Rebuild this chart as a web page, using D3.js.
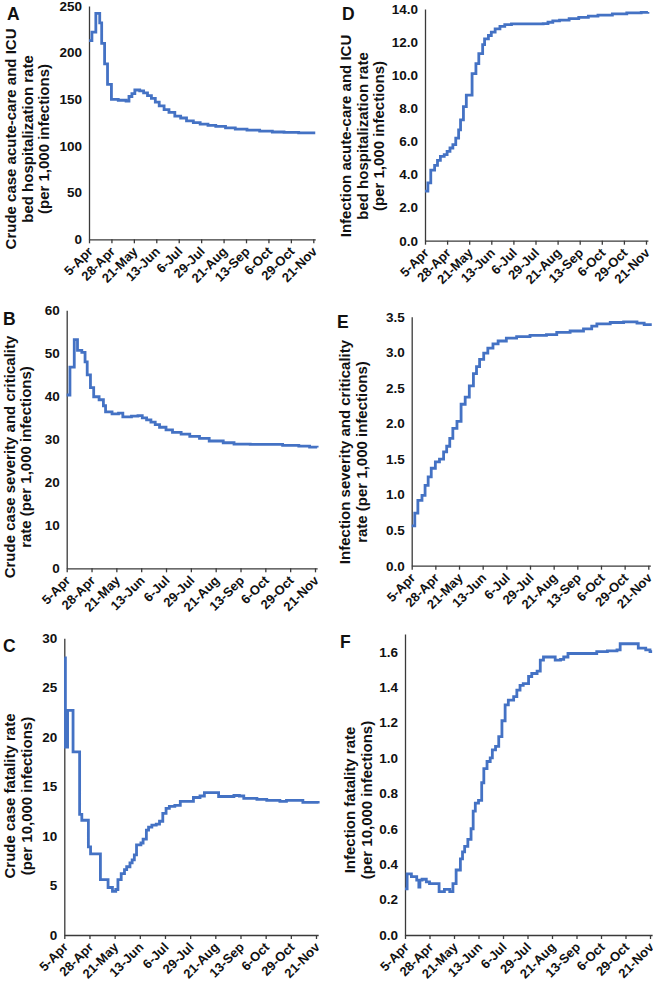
<!DOCTYPE html>
<html>
<head>
<meta charset="utf-8">
<script src="https://cdn.jsdelivr.net/npm/d3@7"></script>
<style>
  body { margin: 0; background: #fff; }
  text { font-family: "Liberation Sans", Arial, sans-serif; font-weight: bold; fill: #111; }
</style>
</head>
<body>
<svg width="653" height="991"></svg>
<script>
// x axis: days counted from 5-Apr, one tick every 23 days
const xTickDays = [0, 23, 46, 69, 92, 115, 138, 161, 184, 207, 230];
const xTickLabels = ["5-Apr", "28-Apr", "21-May", "13-Jun", "6-Jul", "29-Jul", "21-Aug", "13-Sep", "6-Oct", "29-Oct", "21-Nov"];

// A - crude case acute-care and ICU hospitalization rate
const daysA = [0, 3, 7, 11, 13, 16, 19, 23, 30, 38, 41, 44, 47, 52, 56, 60, 64, 68, 72, 77, 82, 88, 94, 100, 107, 114, 122, 130, 140, 150, 162, 175, 188, 200, 215, 225, 232];
const valuesA = [213, 222, 242, 232, 210, 188, 166, 150, 149, 148, 153, 156, 160, 159, 157, 154, 151, 147, 143, 139, 136, 132, 130, 127, 125, 123.5, 122, 121, 119.5, 118, 117, 116, 115, 114.5, 114, 114, 114];

// B - crude case severity and criticality rate
const daysB = [0, 3, 7, 10, 14, 17, 19, 22, 25, 30, 34, 36, 42, 48, 52, 56, 60, 66, 70, 74, 78, 82, 86, 92, 98, 106, 114, 123, 132, 145, 155, 170, 185, 200, 215, 225, 232];
const valuesB = [40.3, 46.8, 53.2, 50.7, 50.2, 48, 45, 42, 39.9, 39.2, 37.8, 36.4, 35.9, 36.1, 35.2, 35.2, 35.4, 35.5, 35, 34.5, 34, 33.4, 32.8, 32.2, 31.6, 31.2, 30.7, 30.2, 29.6, 29.2, 28.9, 28.8, 28.8, 28.6, 28.4, 28.2, 28.1];

// C - crude case fatality rate
const daysC = [0, 1, 3, 8, 14, 16, 22, 24, 33, 40, 44, 47, 49, 52, 55, 57, 60, 62, 64, 66, 70, 72, 75, 77, 80, 84, 87, 90, 93, 96, 101, 106, 113, 118, 124, 128, 141, 155, 160, 164, 176, 185, 197, 203, 218, 232];
const valuesC = [28, 19, 22.7, 18.5, 12.2, 11.6, 8.9, 8.2, 5.6, 4.8, 4.4, 4.6, 5.6, 6.2, 6.6, 6.9, 7.3, 7.6, 8.1, 9.1, 9.3, 9.7, 10.6, 10.9, 11.1, 11.2, 11.5, 12.3, 12.8, 13, 13.1, 13.5, 13.5, 13.9, 14.05, 14.4, 14, 14.1, 14.05, 13.8, 13.7, 13.6, 13.5, 13.6, 13.4, 13.3];

// D - infection acute-care and ICU hospitalization rate
const daysD = [0, 3, 6, 10, 13, 16, 20, 23, 26, 29, 32, 35, 37, 40, 43, 49, 53, 56, 60, 62, 66, 69, 73, 78, 83, 90, 100, 110, 123, 128, 133, 140, 150, 160, 170, 180, 195, 210, 225, 232];
const valuesD = [3.0, 3.5, 4.27, 4.55, 4.85, 5.1, 5.2, 5.4, 5.6, 5.8, 6.2, 6.7, 7.3, 8.1, 8.8, 10.1, 10.7, 11.3, 11.85, 12.2, 12.4, 12.6, 12.8, 12.95, 13.05, 13.1, 13.1, 13.1, 13.12, 13.2, 13.28, 13.33, 13.42, 13.5, 13.57, 13.63, 13.7, 13.76, 13.8, 13.82];

// E - infection severity and criticality rate
const daysE = [0, 3, 6, 10, 13, 16, 19, 23, 27, 31, 34, 37, 40, 44, 48, 52, 56, 60, 63, 66, 70, 74, 79, 84, 92, 102, 115, 131, 141, 154, 167, 175, 180, 193, 206, 219, 226, 232];
const valuesE = [0.56, 0.74, 0.92, 0.99, 1.13, 1.25, 1.37, 1.46, 1.5, 1.6, 1.68, 1.79, 1.93, 2.03, 2.27, 2.37, 2.53, 2.7, 2.8, 2.9, 2.99, 3.06, 3.12, 3.16, 3.2, 3.22, 3.24, 3.25, 3.28, 3.3, 3.33, 3.37, 3.4, 3.42, 3.43, 3.41, 3.39, 3.37];

// F - infection fatality rate
const daysF = [0, 2, 6, 11, 13, 14, 16, 20, 23, 32, 37, 42, 45, 48, 52, 54, 56, 59, 62, 64, 66, 69, 72, 74, 77, 80, 82, 85, 88, 91, 94, 97, 102, 105, 108, 111, 116, 119, 124, 127, 130, 141, 146, 149, 153, 165, 180, 190, 199, 202, 218, 219, 226, 230, 232];
const valuesF = [0.26, 0.345, 0.33, 0.31, 0.27, 0.31, 0.315, 0.3, 0.29, 0.245, 0.258, 0.245, 0.29, 0.367, 0.43, 0.47, 0.5, 0.54, 0.6, 0.7, 0.745, 0.76, 0.86, 0.94, 0.98, 1.0, 1.045, 1.065, 1.12, 1.21, 1.3, 1.327, 1.346, 1.383, 1.41, 1.42, 1.46, 1.477, 1.49, 1.553, 1.57, 1.553, 1.557, 1.57, 1.59, 1.59, 1.6, 1.605, 1.61, 1.645, 1.645, 1.62, 1.61, 1.6, 1.6];

const titleA = ["Crude case acute-care and ICU", "bed hospitalization rate", "(per 1,000 infections)"];
const titleB = ["Crude case severity and criticality", "rate (per 1,000 infections)"];
const titleC = ["Crude case fatality rate", "(per 10,000 infections)"];
const titleD = ["Infection acute-care and ICU", "bed hospitalization rate", "(per 1,000 infections)"];
const titleE = ["Infection severity and criticality", "rate (per 1,000 infections)"];
const titleF = ["Infection fatality rate", "(per 10,000 infections)"];

const panels = [
  {letter: "A", days: daysA, values: valuesA, title: titleA, yMax: 250, yTickMax: 250, yStep: 50, fmt: "d",
   x0: 89, x230: 313.3, yTop: 6, yBot: 239.3, lx: 7, ly: 20, tx: 16, ty: 139},
  {letter: "B", days: daysB, values: valuesB, title: titleB, yMax: 60, yTickMax: 60, yStep: 10, fmt: "d",
   x0: 66.7, x230: 315, yTop: 310.3, yBot: 568.3, lx: 3, ly: 325, tx: 14.5, ty: 457},
  {letter: "C", days: daysC, values: valuesC, title: titleC, yMax: 30, yTickMax: 30, yStep: 5, fmt: "d",
   x0: 64.3, x230: 316, yTop: 638.2, yBot: 935, lx: 3, ly: 652, tx: 15, ty: 796},
  {letter: "D", days: daysD, values: valuesD, title: titleD, yMax: 14, yTickMax: 14, yStep: 2, fmt: ".1f",
   x0: 425, x230: 646, yTop: 9, yBot: 240.7, lx: 342, ly: 20, tx: 351, ty: 136},
  {letter: "E", days: daysE, values: valuesE, title: titleE, yMax: 3.5, yTickMax: 3.5, yStep: 0.5, fmt: ".1f",
   x0: 411.7, x230: 648.3, yTop: 316.8, yBot: 565.7, lx: 337, ly: 328, tx: 350, ty: 452},
  {letter: "F", days: daysF, values: valuesF, title: titleF, yMax: 1.7, yTickMax: 1.6, yStep: 0.2, fmt: ".1f",
   x0: 405, x230: 650, yTop: 634, yBot: 935, lx: 340, ly: 648, tx: 355, ty: 800}
];

const svg = d3.select("svg");
const lineColor = "#4472C4";
const axisColor = "#3a3a3a";

panels.forEach(p => {
  const perDay = (p.x230 - p.x0) / 230;
  const x = d3.scaleLinear().domain([0, 232]).range([p.x0, p.x0 + 232 * perDay]);
  const y = d3.scaleLinear().domain([0, p.yMax]).range([p.yBot, p.yTop]);
  const yTicks = d3.range(0, p.yTickMax + p.yStep / 2, p.yStep);

  const g = svg.append("g");

  // y axis, no tick marks
  const yAxis = g.append("g")
    .attr("transform", "translate(" + p.x0 + ",0)")
    .call(d3.axisLeft(y).tickValues(yTicks).tickSize(0).tickSizeOuter(0).tickPadding(7).tickFormat(d3.format(p.fmt)));
  yAxis.attr("font-family", null);
  yAxis.select(".domain").attr("stroke", axisColor).attr("stroke-width", 1.3);
  yAxis.selectAll("text").attr("font-size", 13.5).attr("fill", "#111");

  // x axis with rotated date labels
  const xAxis = g.append("g")
    .attr("transform", "translate(0," + p.yBot + ")")
    .call(d3.axisBottom(x).tickValues(xTickDays).tickSize(4).tickSizeOuter(0).tickFormat((d, i) => xTickLabels[i]));
  xAxis.attr("font-family", null);
  xAxis.select(".domain").attr("stroke", axisColor).attr("stroke-width", 1.3);
  xAxis.selectAll(".tick line").attr("stroke", axisColor).attr("stroke-width", 1.3);
  xAxis.selectAll(".tick text")
    .attr("x", 0).attr("y", 0).attr("dy", 0)
    .attr("transform", "translate(4,13) rotate(-45)")
    .attr("text-anchor", "end")
    .attr("font-size", 13)
    .attr("fill", "#111");

  // data line
  const pts = p.days.map((d, i) => [d, p.values[i]]);
  g.append("path")
    .datum(pts)
    .attr("fill", "none")
    .attr("stroke", lineColor)
    .attr("stroke-width", 2.8)
    .attr("d", d3.line().x(d => x(d[0])).y(d => y(d[1])).curve(d3.curveStepAfter));

  // axis title, rotated
  p.title.forEach((t, i) => {
    g.append("text")
      .attr("transform", "translate(" + (p.tx + i * 16.5) + "," + p.ty + ") rotate(-90)")
      .attr("text-anchor", "middle")
      .attr("font-size", 15)
      .text(t);
  });

  // panel letter
  g.append("text")
    .attr("x", p.lx).attr("y", p.ly)
    .attr("font-size", 17.5)
    .text(p.letter);
});
</script>
</body>
</html>
